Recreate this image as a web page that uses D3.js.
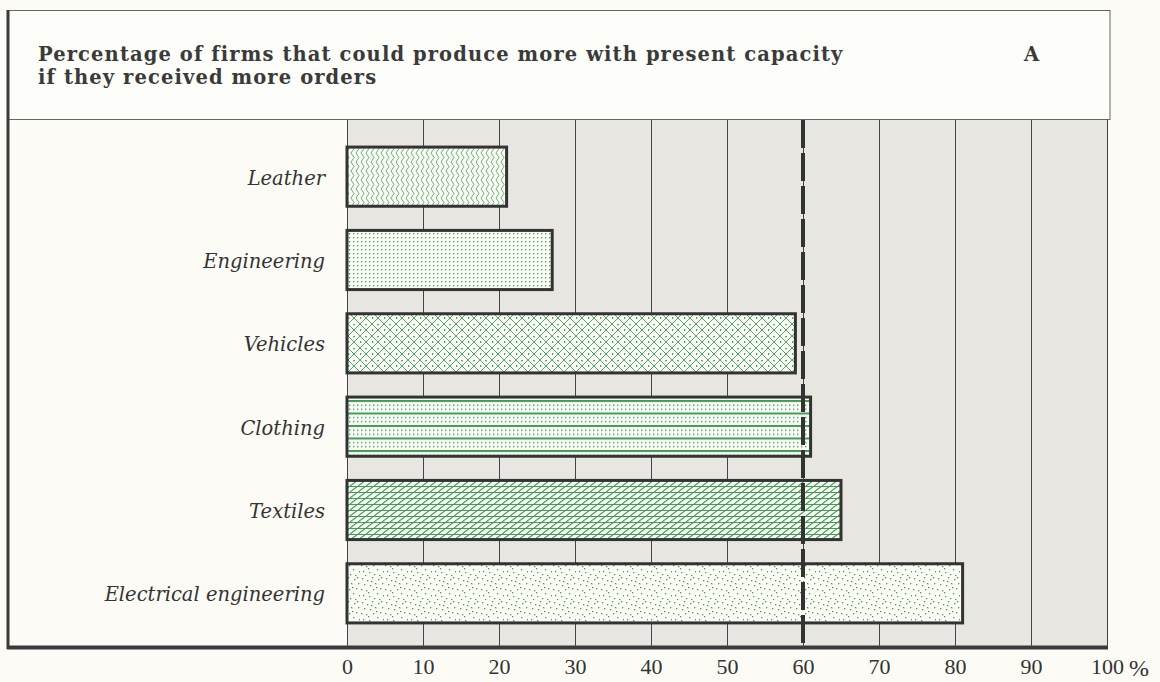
<!DOCTYPE html>
<html lang="en">
<head>
<meta charset="utf-8">
<script src="https://d3js.org/d3.v7.min.js"></script>
<style>
  body { margin: 0; background: #fcfbf6; }
  svg { display: block; }
  .lab { font-family: "DejaVu Serif", serif; font-style: italic; font-size: 19.5px; fill: #333; }
  .ttl { font-family: "DejaVu Serif", serif; font-weight: bold; font-size: 19.5px; letter-spacing: 1.1px; fill: #3a3a3a; }
  .tick text { font-family: "Liberation Serif", serif; font-size: 22px; fill: #333; }
</style>
</head>
<body>
<svg id="chart" width="1160" height="682"></svg>
<script>
// data
const sectors = ["Leather", "Engineering", "Vehicles", "Clothing", "Textiles", "Electrical engineering"];
const pctValues = [21, 27, 59, 61, 65, 81];
const patternIds = ["chev", "dots", "diam", "hstripe", "diag", "speck"];
const tickVals = [0, 10, 20, 30, 40, 50, 60, 70, 80, 90, 100];
const refLine = 60;
const titleLines = ["Percentage of firms that could produce more with present capacity", "if they received more orders"];

const svg = d3.select("#chart");
const green = "#3f9d55";

let x = d3.scaleLinear().domain([0, 100]).range([347, 1107]);
let y = d3.scaleBand().domain(sectors).range([135, 635]).paddingInner(0.29).paddingOuter(0.145);

// ---- patterns
const defs = svg.append("defs");
function pat(id, w, h) {
  let p = defs.append("pattern").attr("id", id).attr("patternUnits", "userSpaceOnUse")
    .attr("width", w).attr("height", h);
  p.append("rect").attr("width", w).attr("height", h).attr("fill", "#fbfcf6");
  return p;
}
// chevrons
let p1 = pat("chev", 5, 9);
p1.append("path").attr("d", "M1,0 L4,4.5 L1,9").attr("fill", "none").attr("stroke", green).attr("stroke-width", 0.8);
// dot grid
let p2 = pat("dots", 4, 4);
p2.append("rect").attr("x", 1).attr("y", 1).attr("width", 1.3).attr("height", 1.3).attr("fill", green);
// diamond crosshatch with centre dots
let p3 = pat("diam", 12, 12);
p3.append("path").attr("d", "M0,0 L12,12 M12,0 L0,12").attr("stroke", green).attr("stroke-width", 0.9);
p3.append("circle").attr("cx", 6).attr("cy", 0.6).attr("r", 0.9).attr("fill", green);
p3.append("circle").attr("cx", 0.6).attr("cy", 6).attr("r", 0.9).attr("fill", green);
// horizontal lines with dot rows
let p4 = pat("hstripe", 4, 12.5);
p4.append("rect").attr("x", 0).attr("y", 0).attr("width", 4).attr("height", 2).attr("fill", green);
p4.append("rect").attr("x", 1).attr("y", 4.5).attr("width", 1.4).attr("height", 1.4).attr("fill", green);
p4.append("rect").attr("x", 1).attr("y", 8.5).attr("width", 1.4).attr("height", 1.4).attr("fill", green);
// diagonal + horizontal
let p5 = pat("diag", 8, 6);
p5.append("path").attr("d", "M0,0.5 L8,0.5 M-2,6 L6,0 M6,6 L14,0").attr("stroke", green).attr("stroke-width", 1.1);
// scattered specks
let p6 = pat("speck", 24, 24);
const specks = [[2,2],[7,4],[12,1],[18,3],[22,7],[4,8],[10,9],[15,7],[20,12],[1,13],[6,14],[13,13],[17,17],[23,19],[3,19],[9,20],[14,22],[19,23],[8,16],[11,5],[16,11],[21,1],[5,23]];
specks.forEach(s => p6.append("rect").attr("x", s[0]).attr("y", s[1]).attr("width", 1.3).attr("height", 1.3).attr("fill", green));

// ---- frame
svg.append("rect").attr("x", 8).attr("y", 10.5).attr("width", 1102).attr("height", 109)
  .attr("fill", "#fdfdf9").attr("stroke", "#666").attr("stroke-width", 1);
svg.append("rect").attr("x", 347).attr("y", 120).attr("width", 760).attr("height", 527).attr("fill", "#e8e6e0");

// title
svg.append("text").attr("class", "ttl").attr("x", 38).attr("y", 61)
  .selectAll("tspan").data(titleLines).join("tspan")
  .attr("x", 38).attr("dy", (d, i) => i ? 23 : 0).text(d => d);
svg.append("text").attr("class", "ttl").attr("x", 1024).attr("y", 61).text("A");

// gridlines
svg.append("g").selectAll("line").data(tickVals).join("line")
  .attr("x1", d => Math.round(x(d)) + 0.5).attr("x2", d => Math.round(x(d)) + 0.5)
  .attr("y1", 120).attr("y2", 647)
  .attr("stroke", "#444").attr("stroke-width", 1);

// bars
svg.append("g").selectAll("rect").data(sectors).join("rect")
  .attr("x", x(0))
  .attr("y", d => y(d))
  .attr("width", (d, i) => x(pctValues[i]) - x(0))
  .attr("height", y.bandwidth())
  .attr("fill", (d, i) => "url(#" + patternIds[i] + ")")
  .attr("stroke", "#333").attr("stroke-width", 3);

// labels
svg.append("g").selectAll("text").data(sectors).join("text")
  .attr("class", "lab")
  .attr("x", 325)
  .attr("y", d => y(d) + y.bandwidth() / 2 + 8)
  .attr("text-anchor", "end")
  .text(d => d);

// 60 % reference line
svg.append("line")
  .attr("x1", x(refLine)).attr("x2", x(refLine))
  .attr("y1", 120).attr("y2", 648)
  .attr("stroke", "#333").attr("stroke-width", 4)
  .attr("stroke-dasharray", "28,5");

// left and bottom heavy rules
svg.append("line").attr("x1", 8).attr("x2", 8).attr("y1", 10).attr("y2", 649)
  .attr("stroke", "#3a3a3a").attr("stroke-width", 3);
svg.append("line").attr("x1", 7).attr("x2", 1108).attr("y1", 647.5).attr("y2", 647.5)
  .attr("stroke", "#3a3a3a").attr("stroke-width", 4);

// axis
let axis = svg.append("g").attr("transform", "translate(0,650)")
  .call(d3.axisBottom(x).tickValues(tickVals).tickSize(0).tickFormat(d => d));
axis.select(".domain").remove();
axis.selectAll(".tick text").attr("dy", "0.95em");
svg.append("text").attr("x", 1129).attr("y", 676).style("font-family", "Liberation Serif")
  .style("font-size", "24px").style("fill", "#333").text("%");
</script>
</body>
</html>
